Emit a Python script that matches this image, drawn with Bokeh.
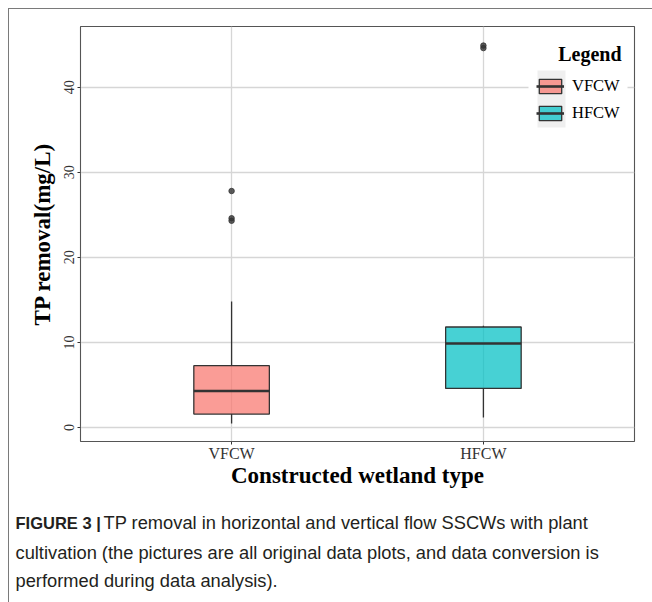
from bokeh.plotting import figure
from bokeh.layouts import column
from bokeh.models import (FactorRange, Range1d, FixedTicker, Legend, LegendItem,
                          Label, BoxAnnotation, ColumnDataSource)
from bokeh.transform import dodge
from bokeh.embed import file_html
from bokeh.resources import INLINE

# ---------------- data ----------------
categories = ["VFCW", "HFCW"]
lower_whisker = [0.47, 1.18]
q1 = [1.58, 4.59]
median = [4.28, 9.88]
q3 = [7.26, 11.81]
upper_whisker = [14.8, 11.95]
fill_colors = ["#F8766D", "#00BFC4"]

outlier_group = ["VFCW", "VFCW", "VFCW", "HFCW", "HFCW"]
outlier_values = [27.8, 24.6, 24.3, 44.9, 44.6]

y_ticks = [0, 10, 20, 30, 40]

x_title = "Constructed wetland type"
y_title = "TP removal(mg/L)"
legend_title = "Legend"
caption_bold = "FIGURE 3 |"
caption_lines = [
    "TP removal in horizontal and vertical flow SSCWs with plant",
    "cultivation (the pictures are all original data plots, and data conversion is",
    "performed during data analysis).",
]

# ---------------- layout constants (canvas pixels) ----------------
W, H = 652, 602
OFF = 9                       # outer frame: 8px margin + 1px border
SPLIT = 500                   # canvas y where the caption strip starts
FL, FR, FT, FB = 80, 634, 26, 441   # plot panel edges on the canvas
SERIF = "Liberation Serif"
SANS = "Liberation Sans"

PW = W - OFF
PH = SPLIT - OFF

src = ColumnDataSource(dict(cat=categories, lw=lower_whisker, q1=q1, med=median,
                            q3=q3, uw=upper_whisker, color=fill_colors))
out_src = ColumnDataSource(dict(cat=outlier_group, val=outlier_values))

p = figure(width=PW, height=PH,
           x_range=FactorRange(*categories, range_padding=0.1),
           y_range=Range1d(-1.65, 47.14),
           output_backend="svg", toolbar_location=None,
           min_border_left=FL - OFF, min_border_right=W - FR,
           min_border_top=FT - OFF, min_border_bottom=SPLIT - FB)
p.frame_align = False
p.background_fill_color = "white"
p.border_fill_color = "white"
p.outline_line_color = "#555555"
p.outline_line_width = 1.1

# grid
p.xgrid.grid_line_color = "#d6d6d6"
p.xgrid.grid_line_width = 1.3
p.ygrid.ticker = FixedTicker(ticks=y_ticks)
p.ygrid.grid_line_color = "#d6d6d6"
p.ygrid.grid_line_width = 1.3

# axes
p.yaxis.ticker = FixedTicker(ticks=y_ticks)
for ax in (p.xaxis[0], p.yaxis[0]):
    ax.axis_line_color = None
    ax.major_tick_out = 3
    ax.major_tick_in = 0
    ax.minor_tick_line_color = None
    ax.major_tick_line_color = "#333333"
    ax.major_label_text_font = SERIF
    ax.major_label_text_color = "#333333"
    ax.axis_label_text_font = SERIF
    ax.axis_label_text_font_style = "bold"
    ax.axis_label_text_color = "black"
    ax.axis_label_text_font_size = "23px"

p.yaxis.major_label_orientation = "vertical"
p.yaxis.major_label_text_font_size = "14px"
p.yaxis.major_label_standoff = 3
p.yaxis.axis_label = y_title
p.yaxis.axis_label_standoff = 7

p.xaxis.major_label_text_font_size = "16px"
p.xaxis.major_label_standoff = 0
p.xaxis.axis_label = x_title
p.xaxis.axis_label_standoff = -2

# whiskers
p.segment(x0="cat", y0="q3", x1="cat", y1="uw", source=src, line_color="#333333", line_width=1.3)
p.segment(x0="cat", y0="q1", x1="cat", y1="lw", source=src, line_color="#333333", line_width=1.3)
# boxes
box_r = p.vbar(x="cat", top="q3", bottom="q1", width=0.3, source=src,
               fill_color="color", fill_alpha=0.72, line_color="#333333", line_width=1.3)
# medians
med_r = p.segment(x0=dodge("cat", -0.15, range=p.x_range), y0="med",
                  x1=dodge("cat", 0.15, range=p.x_range), y1="med",
                  source=src, line_color="#333333", line_width=2.6)
# outliers
p.scatter(x="cat", y="val", source=out_src, size=5.5, fill_color="#333333",
          line_color="#333333", fill_alpha=0.8, line_alpha=0.8)


# ---------------- legend (inside the panel) ----------------
def fx(x):  # canvas x -> panel screen units
    return x - FL


def fy(y):  # canvas y -> panel screen units (measured from panel bottom)
    return FB - y


def screen_box(l, r, t, b, **kw):
    return BoxAnnotation(left=fx(l), right=fx(r), top=fy(t), bottom=fy(b),
                         left_units="screen", right_units="screen",
                         top_units="screen", bottom_units="screen", **kw)


p.add_layout(screen_box(528, 627, 35, 135, fill_color="white", fill_alpha=1.0, line_color=None))
p.add_layout(screen_box(537, 565, 70, 127, fill_color="#efefef", fill_alpha=1.0, line_color=None))

items = [LegendItem(label=categories[i], renderers=[box_r, med_r], index=i)
         for i in range(len(categories))]
legend = Legend(items=items, location=(fx(536), fy(123)),
                padding=8, spacing=7, glyph_width=28, glyph_height=18,
                label_standoff=8, label_height=18,
                label_text_font=SERIF, label_text_font_size="16.5px",
                label_text_color="black",
                background_fill_alpha=0.0, border_line_color=None, margin=0)
p.add_layout(legend)

p.add_layout(Label(text=legend_title, x=fx(621), y=fy(53), x_units="screen", y_units="screen",
                   text_align="right", text_baseline="middle",
                   text_font=SERIF, text_font_style="bold", text_font_size="20px",
                   text_color="black"))

# ---------------- caption strip ----------------
CH = H - SPLIT
cap = figure(width=PW, height=CH, x_range=Range1d(0, 1), y_range=Range1d(0, 1),
             output_backend="svg", toolbar_location=None,
             x_axis_location=None, y_axis_location=None,
             min_border=0, min_border_left=0, min_border_right=0,
             min_border_top=0, min_border_bottom=0)
cap.frame_align = False
cap.grid.visible = False
cap.outline_line_color = None
cap.background_fill_color = "white"
cap.border_fill_color = "white"


def cx(x):
    return x - OFF


def cy(y):
    return H - y


cap_y = [522, 552, 580]
cap.add_layout(Label(text=caption_bold, x=cx(15), y=cy(cap_y[0]), x_units="screen", y_units="screen",
                     text_baseline="middle", text_font=SANS, text_font_style="bold",
                     text_font_size="16.5px", text_color="#231f20"))
cap.add_layout(Label(text=caption_lines[0], x=cx(103), y=cy(cap_y[0]), x_units="screen",
                     y_units="screen", text_baseline="middle", text_font=SANS,
                     text_font_size="18.3px", text_color="#231f20"))
for i in (1, 2):
    cap.add_layout(Label(text=caption_lines[i], x=cx(15), y=cy(cap_y[i]), x_units="screen",
                         y_units="screen", text_baseline="middle", text_font=SANS,
                         text_font_size="18.3px", text_color="#231f20"))

layout = column(p, cap, spacing=0,
                styles={"margin-left": "8px", "margin-top": "8px",
                        "border-left": "1px solid #7a7a7a",
                        "border-top": "1px solid #7a7a7a"})

open("out.html", "w").write(file_html(layout, INLINE))
